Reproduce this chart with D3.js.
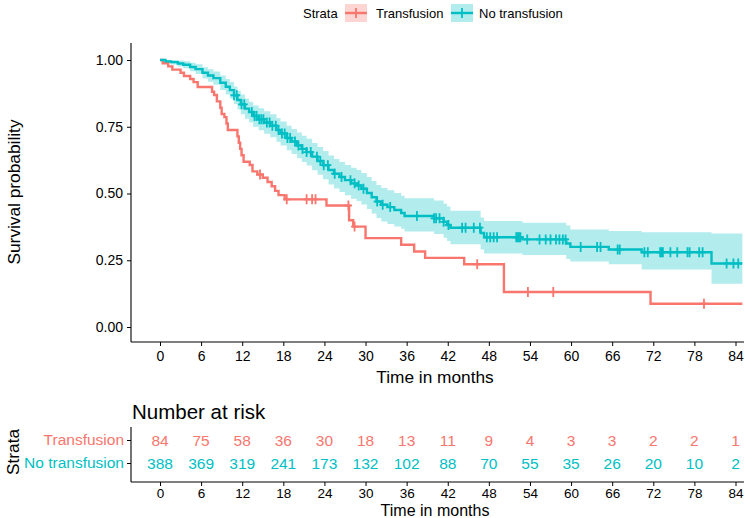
<!DOCTYPE html>
<html>
<head>
<meta charset="utf-8" />
<script src="https://cdn.jsdelivr.net/npm/d3@7"></script>
<style>
    body { margin: 0; background: #fff; }
    text { font-family: "Liberation Sans", Arial, sans-serif; fill: #000; }
</style>
</head>
<body>
<script>
    // ---- data ----
    var strata = ["Transfusion", "No transfusion"];
    var strataColors = ["#F8766D", "#00BFC4"];
    var timeTicks = [0, 6, 12, 18, 24, 30, 36, 42, 48, 54, 60, 66, 72, 78, 84];
    var survTicks = [0, 0.25, 0.5, 0.75, 1];

    var transTime = [0, 0.4, 1.2, 1.8, 3.0, 3.5, 4.4, 4.9, 5.5, 7.6, 7.9, 8.3, 8.8, 9.0, 9.4, 9.7, 9.9,
        11.3, 11.5, 11.7, 11.9, 12.2, 13.1, 13.5, 14.2, 15.0, 15.7, 16.3, 16.8, 17.3, 18.2, 24.3,
        27.6, 28.2, 30.0, 35.2, 37.1, 38.7, 44.4, 50.2, 71.6];
    var transSurv = [1.0, 0.988, 0.976, 0.964, 0.952, 0.940, 0.929, 0.917, 0.899, 0.881, 0.869, 0.845, 0.821, 0.798, 0.786, 0.762, 0.738,
        0.714, 0.690, 0.667, 0.643, 0.619, 0.607, 0.583, 0.571, 0.559, 0.543, 0.527, 0.510, 0.494, 0.478, 0.455,
        0.400, 0.376, 0.333, 0.308, 0.283, 0.259, 0.235, 0.131, 0.087];
    var transCensor = [14.6, 18.5, 21.4, 22.2, 22.7, 27.5, 28.4, 46.3, 53.7, 57.4, 79.4];

    var noTransTime = [0, 0.8, 1.6, 2.6, 3.4, 4.4, 5.2, 6.2, 7.0, 7.8, 8.8, 9.6, 10.2, 10.8, 11.3, 11.8, 12.4, 13.0,
        13.6, 14.4, 15.2, 16.1, 17.0, 17.6, 18.5, 19.2, 20.0, 20.7, 21.4, 22.2, 23.0, 23.8, 24.6, 25.4, 26.2,
        27.0, 27.9, 28.7, 29.4, 30.2, 30.9, 31.6, 32.3, 33.2, 34.2, 35.2, 35.7, 40.0, 41.4, 41.9, 42.4, 46.8,
        47.3, 52.9, 59.3, 59.9, 65.5, 70.3, 80.5];
    var noTransSurv = [1.0, 0.995, 0.992, 0.987, 0.982, 0.974, 0.966, 0.952, 0.942, 0.932, 0.915, 0.900, 0.887, 0.868, 0.850, 0.834, 0.818, 0.805,
        0.790, 0.778, 0.766, 0.754, 0.738, 0.725, 0.708, 0.695, 0.680, 0.667, 0.655, 0.638, 0.622, 0.606, 0.588, 0.574, 0.562,
        0.550, 0.538, 0.530, 0.518, 0.502, 0.486, 0.470, 0.458, 0.449, 0.438, 0.427, 0.416, 0.407, 0.394, 0.382, 0.372, 0.352,
        0.336, 0.328, 0.313, 0.300, 0.290, 0.280, 0.238];
    var noTransUpper = [1.0, 1.0, 1.0, 0.998, 0.995, 0.990, 0.984, 0.973, 0.965, 0.957, 0.942, 0.929, 0.918, 0.901, 0.885, 0.871, 0.856, 0.844,
        0.830, 0.819, 0.808, 0.797, 0.782, 0.770, 0.754, 0.742, 0.728, 0.716, 0.705, 0.689, 0.674, 0.659, 0.642, 0.629, 0.618,
        0.607, 0.596, 0.588, 0.577, 0.562, 0.547, 0.532, 0.521, 0.512, 0.502, 0.492, 0.482, 0.474, 0.462, 0.451, 0.435, 0.410,
        0.397, 0.390, 0.380, 0.365, 0.360, 0.355, 0.350];
    var noTransLower = [1.0, 0.988, 0.983, 0.976, 0.969, 0.958, 0.948, 0.931, 0.919, 0.907, 0.888, 0.871, 0.856, 0.835, 0.815, 0.797, 0.780, 0.766,
        0.750, 0.737, 0.724, 0.711, 0.694, 0.680, 0.662, 0.648, 0.632, 0.618, 0.605, 0.587, 0.570, 0.553, 0.534, 0.519, 0.506,
        0.493, 0.480, 0.472, 0.459, 0.442, 0.425, 0.408, 0.395, 0.386, 0.376, 0.368, 0.358, 0.348, 0.334, 0.322, 0.310, 0.290,
        0.275, 0.270, 0.255, 0.245, 0.235, 0.215, 0.162];
    var noTransCensor = [10.8, 11.2, 11.9, 12.3, 13.4, 13.8, 14.1, 14.5, 14.8, 15.1, 15.6, 16.0, 16.4, 16.9, 17.3, 17.8, 18.2, 18.6,
        19.0, 19.7, 20.2, 20.8, 21.4, 22.0, 22.9, 23.4, 23.9, 24.5, 25.5, 26.5, 27.8, 28.4, 29.0, 29.7, 31.7, 32.5, 33.6,
        37.5, 40.0, 40.3, 40.8, 41.4, 42.1, 44.1, 44.6, 45.8, 46.7, 47.7, 48.2, 48.7, 49.2, 52.0, 52.2, 52.4, 52.6, 53.6,
        55.4, 56.3, 57.0, 57.8, 58.3, 58.8, 59.2, 61.4, 63.8, 64.3, 66.8, 67.1, 70.7, 71.2, 73.0, 73.2, 73.4, 74.5, 75.5,
        77.0, 77.3, 78.7, 79.2, 82.7, 83.7, 84.4];

    var riskTransfusion = [84, 75, 58, 36, 30, 18, 13, 11, 9, 4, 3, 3, 2, 2, 1];
    var riskNoTransfusion = [388, 369, 319, 241, 173, 132, 102, 88, 70, 55, 35, 26, 20, 10, 2];

    // ---- layout ----
    var W = 744, H = 518;
    var panelLeft = 131, panelRight = 744, lastTime = 85;
    var tickFont = "14px", titleFont = "17.3px";

    var svg = d3.select("body").append("svg")
        .attr("width", W).attr("height", H);

    var x = d3.scaleLinear().domain([0, 84]).range([160, 735.5]);
    var y = d3.scaleLinear().domain([0, 1]).range([327, 60]);

    function stepPoints(times, surv) {
        var pts = times.map(function(t, i) { return [t, surv[i]]; });
        pts.push([lastTime, surv[surv.length - 1]]);
        return pts;
    }
    function survAt(times, surv, t) {
        var i = d3.bisectRight(times, t) - 1;
        return surv[Math.max(i, 0)];
    }
    function censorPath(px, py) {
        return "M" + (px - 3.5) + "," + py + "h7M" + px + "," + (py - 5) + "v10";
    }

    var plot = svg.append("g");

    // confidence band (No transfusion)
    var band = d3.area().curve(d3.curveStepAfter)
        .x(function(d) { return x(d[0]); })
        .y0(function(d) { return y(d[2]); })
        .y1(function(d) { return y(d[1]); });
    var bandPts = noTransTime.map(function(t, i) { return [t, noTransUpper[i], noTransLower[i]]; });
    bandPts.push([lastTime, noTransUpper[noTransUpper.length - 1], noTransLower[noTransLower.length - 1]]);
    plot.append("path")
        .attr("d", band(bandPts))
        .attr("fill", strataColors[1]).attr("fill-opacity", 0.3);

    var line = d3.line().curve(d3.curveStepAfter)
        .x(function(d) { return x(d[0]); })
        .y(function(d) { return y(d[1]); });

    var curves = [
        { time: transTime, surv: transSurv, censor: transCensor, color: strataColors[0] },
        { time: noTransTime, surv: noTransSurv, censor: noTransCensor, color: strataColors[1] }
    ];
    curves.forEach(function(c) {
        plot.append("path")
            .attr("d", line(stepPoints(c.time, c.surv)))
            .attr("fill", "none").attr("stroke", c.color).attr("stroke-width", 2.4);
        plot.selectAll(null).data(c.censor).enter().append("path")
            .attr("d", function(t) { return censorPath(x(t), y(survAt(c.time, c.surv, t))); })
            .attr("fill", "none").attr("stroke", c.color).attr("stroke-width", 1.8);
    });

    // axes of the survival panel
    var axisY0 = 342;
    var yAxis = svg.append("g").attr("transform", "translate(" + panelLeft + ",0)")
        .call(d3.axisLeft(y).tickValues(survTicks).tickFormat(d3.format(".2f")).tickSize(4).tickPadding(4));
    yAxis.select(".domain").remove();
    yAxis.selectAll("text").style("font-size", tickFont).attr("fill", "#000");
    svg.append("line").attr("x1", panelLeft).attr("x2", panelLeft).attr("y1", 43).attr("y2", axisY0)
        .attr("stroke", "#000").attr("stroke-width", 1.1);

    var xAxis = svg.append("g").attr("transform", "translate(0," + axisY0 + ")")
        .call(d3.axisBottom(x).tickValues(timeTicks).tickSize(4).tickPadding(5));
    xAxis.select(".domain").remove();
    xAxis.selectAll("text").style("font-size", tickFont).attr("fill", "#000");
    svg.append("line").attr("x1", panelLeft).attr("x2", panelRight).attr("y1", axisY0).attr("y2", axisY0)
        .attr("stroke", "#000").attr("stroke-width", 1.1);

    svg.append("text").attr("x", 435).attr("y", 377).attr("text-anchor", "middle")
        .attr("dominant-baseline", "central").style("font-size", titleFont).text("Time in months");
    svg.append("text").attr("transform", "translate(14,192) rotate(-90)").attr("text-anchor", "middle")
        .attr("dominant-baseline", "central").style("font-size", titleFont).text("Survival probability");

    // legend
    var legend = svg.append("g");
    legend.append("text").attr("x", 303).attr("y", 13).attr("dominant-baseline", "central")
        .style("font-size", "13px").text("Strata");
    var keyX = [345, 451], labelX = [376, 479];
    strata.forEach(function(s, i) {
        legend.append("rect").attr("x", keyX[i]).attr("y", 4).attr("width", 22).attr("height", 18)
            .attr("fill", strataColors[i]).attr("fill-opacity", 0.3);
        legend.append("path").attr("d", "M" + keyX[i] + ",13h22")
            .attr("stroke", strataColors[i]).attr("stroke-width", 2.4);
        legend.append("path").attr("d", censorPath(keyX[i] + 11, 13))
            .attr("fill", "none").attr("stroke", strataColors[i]).attr("stroke-width", 1.8);
        legend.append("text").attr("x", labelX[i]).attr("y", 13).attr("dominant-baseline", "central")
            .style("font-size", "13px").text(s);
    });

    // risk table
    svg.append("text").attr("x", 132).attr("y", 411).attr("dominant-baseline", "central")
        .style("font-size", "20.5px").text("Number at risk");

    var rowY = d3.scalePoint().domain(strata).range([440, 463]);
    var risk = [riskTransfusion, riskNoTransfusion];
    var tableAxisY = 482;

    strata.forEach(function(s, i) {
        svg.append("g").selectAll(null).data(risk[i]).enter().append("text")
            .attr("x", function(d, j) { return x(timeTicks[j]); })
            .attr("y", rowY(s))
            .attr("text-anchor", "middle").attr("dominant-baseline", "central")
            .style("font-size", "15.5px").style("fill", strataColors[i])
            .text(function(d) { return d; });
    });

    var rowAxis = svg.append("g").attr("transform", "translate(" + panelLeft + ",0)")
        .call(d3.axisLeft(rowY).tickSize(4).tickPadding(3));
    rowAxis.select(".domain").remove();
    rowAxis.selectAll("text").style("font-size", "15.5px")
        .style("fill", function(d, i) { return strataColors[i]; });
    svg.append("line").attr("x1", panelLeft).attr("x2", panelLeft).attr("y1", 427).attr("y2", tableAxisY)
        .attr("stroke", "#000").attr("stroke-width", 1.1);

    var tAxis = svg.append("g").attr("transform", "translate(0," + tableAxisY + ")")
        .call(d3.axisBottom(x).tickValues(timeTicks).tickSize(4).tickPadding(2));
    tAxis.select(".domain").remove();
    tAxis.selectAll("text").style("font-size", "13.5px").attr("fill", "#000");
    svg.append("line").attr("x1", panelLeft).attr("x2", panelRight).attr("y1", tableAxisY).attr("y2", tableAxisY)
        .attr("stroke", "#000").attr("stroke-width", 1.1);

    svg.append("text").attr("x", 435).attr("y", 510.5).attr("text-anchor", "middle")
        .attr("dominant-baseline", "central").style("font-size", "16px").text("Time in months");
    svg.append("text").attr("transform", "translate(13,452) rotate(-90)").attr("text-anchor", "middle")
        .attr("dominant-baseline", "central").style("font-size", titleFont).text("Strata");
</script>
</body>
</html>
